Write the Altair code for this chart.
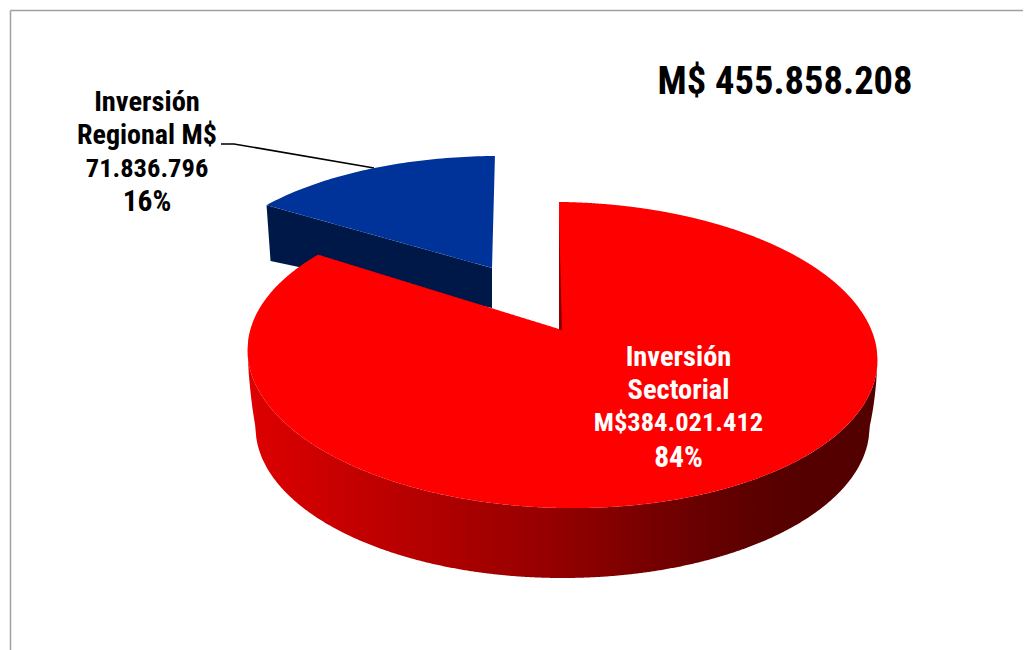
import numpy as np
import pandas as pd
import altair as alt

# Values
categories = ["Inversión Sectorial", "Inversión Regional"]
amounts = [384021412, 71836796]
total_amount = 455858208
total_label = "M$ 455.858.208"
lines_regional = ["Inversión", "Regional M$", "71.836.796", "16%"]
lines_sectorial = ["Inversión", "Sectorial", "M$384.021.412", "84%"]

# Styling / view geometry (3-D pie drawn in pie units, mapped by the scales)
W, H = 1015, 642
CX, CY, A, B = 562.5, 355.0, 315.0, 153.0
TILT = 5.0
PERSPECTIVE = 0.885
FONT = "'Roboto Condensed', 'Liberation Sans'"
sizes_regional = [28.5, 28, 26.5, 29.5]
rows_regional = [102, 136, 169, 202]
sizes_sectorial = [28.5, 28.5, 26.5, 29.5]
rows_sectorial = [357, 390, 423, 458]


def ux(px):
    return (np.asarray(px, dtype=float) - CX) / A


def vy(py):
    return (CY - np.asarray(py, dtype=float)) / B


xs = alt.Scale(domain=[float(ux(8)), float(ux(8 + W))], range=[0, W], zero=False, nice=False)
ys = alt.Scale(domain=[float(vy(8 + H)), float(vy(8))], range=[H, 0], zero=False, nice=False)
X = alt.X("x:Q", scale=xs, axis=None)
Y = alt.Y("y:Q", scale=ys, axis=None, stack=None)

gap = np.deg2rad(360 * amounts[1] / total_amount * PERSPECTIVE)
t0 = np.deg2rad(-0.7)
t_left = t0 - gap


def interp(x, p, q):
    return p[1] + (x - p[0]) * (q[1] - p[1]) / (q[0] - p[0])


def rim(x, sign):
    """Upper (sign=-1) or lower (sign=+1) rim of the tilted top face."""
    u = (np.asarray(x, dtype=float) - CX) / A
    return CY + TILT * u + sign * B * np.sqrt(np.clip(1 - u ** 2, 0, 1))


def area(xv, y1, y2, **mark):
    df = pd.DataFrame({"x": ux(xv), "y": vy(y1), "y2": vy(y2)})
    return alt.Chart(df).mark_area(orient="vertical", **mark).encode(
        x=X, y=Y, y2="y2:Q"
    )


# Regional slice (exploded)
BA, BB, BCX, BCY = 299.0, 133.0, 498.6, 289.0
L_b = (BCX + BA * np.sin(t_left), BCY - BB * np.cos(t_left))
T_b = (BCX + BA * np.sin(t0), BCY - BB * np.cos(t0))
A_b = (492.0, 268.0)
ts = np.linspace(t_left, t0, 60)
bx = BCX + BA * np.sin(ts)
btop = BCY - BB * np.cos(ts)
mask = bx <= A_b[0]
bx2 = np.r_[bx[mask], A_b[0], T_b[0]]
btop2 = np.r_[btop[mask], interp(A_b[0], (bx[-2], btop[-2]), T_b), T_b[1]]
bbot2 = np.r_[interp(bx[mask], L_b, A_b), A_b[1], T_b[1]]
blue_top = area(bx2, btop2, bbot2, fill="#003399")

sx = np.array([L_b[0], L_b[0] + 4, A_b[0]])
blue_side = area(
    sx,
    interp(sx, L_b, A_b),
    np.array([L_b[1], 261.0, 308.0]),
    fill="#001848",
)

# Sectorial slice: side wall
B_A, B_B, B_CY = 307.0, 151.0, 427.0
side_x = np.linspace(CX - A, CX + A, 500)
side_top = rim(side_x, 1)
w = np.clip((side_x - CX) / B_A, -1, 1)
side_bot = B_CY + B_B * np.sqrt(1 - w ** 2)
edge = np.abs(side_x - CX) > B_A
frac = (np.abs(side_x - CX) - B_A) / (A - B_A)
side_bot = np.where(edge, rim(side_x, 1) + (B_CY - rim(side_x, 1)) * (1 - frac), side_bot)
red_gradient = alt.Gradient(
    gradient="linear",
    x1=0, x2=1, y1=0, y2=0,
    stops=[
        alt.GradientStop(color="#de0000", offset=0),
        alt.GradientStop(color="#bc0000", offset=0.22),
        alt.GradientStop(color="#920000", offset=0.5),
        alt.GradientStop(color="#680000", offset=0.72),
        alt.GradientStop(color="#560000", offset=0.85),
        alt.GradientStop(color="#520000", offset=1),
    ],
)
red_side = area(side_x, side_top, side_bot, fill=red_gradient)

# Sectorial slice: top face
lx = CX + A * np.sin(t_left)
L_r = (lx, float(rim(lx, -1)))
T_r = (559.0, 202.0)
A_r = (559.0, 329.0)
px = np.linspace(CX - A, CX + A, 900)
ell_up = rim(px, -1)
left = px <= L_r[0]
mid = (px > L_r[0]) & (px < A_r[0])
right = px > A_r[0]
rx = np.r_[px[left], L_r[0], px[mid], A_r[0], T_r[0], px[right]]
rup = np.r_[
    ell_up[left], L_r[1], interp(px[mid], L_r, A_r), A_r[1], T_r[1], ell_up[right],
]
rlo = rim(rx, 1)
red_top = area(rx, rup, rlo, fill="#ff0000")

sliver = area(
    np.array([559.0, 562.0]),
    np.array([216.0, 330.0]),
    np.array([330.0, 330.0]),
    fill="#8a0000",
)


# Text, leader, frame
def text(s, px_, py_, size, color):
    df = pd.DataFrame({"x": [float(ux(px_))], "y": [float(vy(py_))], "t": [s]})
    return alt.Chart(df).mark_text(
        font=FONT, fontWeight="bold", fontSize=size, color=color,
        align="center", baseline="middle",
    ).encode(x=X, y=Y, text="t:N")


leader_df = pd.DataFrame({
    "x": ux([221, 234, 374]),
    "y": vy([144, 144, 168]),
    "i": [0, 1, 2],
})
leader = alt.Chart(leader_df).mark_line(color="#000000", strokeWidth=1.6).encode(
    x=X, y=Y, order=alt.Order("i:Q")
)

frame_h = alt.Chart(pd.DataFrame({"a": [0]})).mark_rule(color="#a0a0a0", strokeWidth=1.5).encode(
    x=alt.value(2.5), x2=alt.value(W), y=alt.value(2.5)
)
frame_v = alt.Chart(pd.DataFrame({"a": [0]})).mark_rule(color="#a0a0a0", strokeWidth=1.5).encode(
    x=alt.value(2.5), y=alt.value(2.5), y2=alt.value(H)
)

texts = [text(total_label, 785, 82, 38.5, "#000000")]
texts += [text(s, 147, r, z, "#000000") for s, r, z in zip(lines_regional, rows_regional, sizes_regional)]
texts += [text(s, 678.5, r, z, "#ffffff") for s, r, z in zip(lines_sectorial, rows_sectorial, sizes_sectorial)]

chart = alt.layer(
    frame_h, frame_v, leader, blue_side, blue_top, red_side, red_top, sliver, *texts
).properties(
    width=W, height=H, padding=0, autosize=alt.AutoSizeParams(type="none"),
    background="#ffffff",
).configure_view(stroke=None)

chart.save("out.html", embed_options={"renderer": "svg", "actions": False})
